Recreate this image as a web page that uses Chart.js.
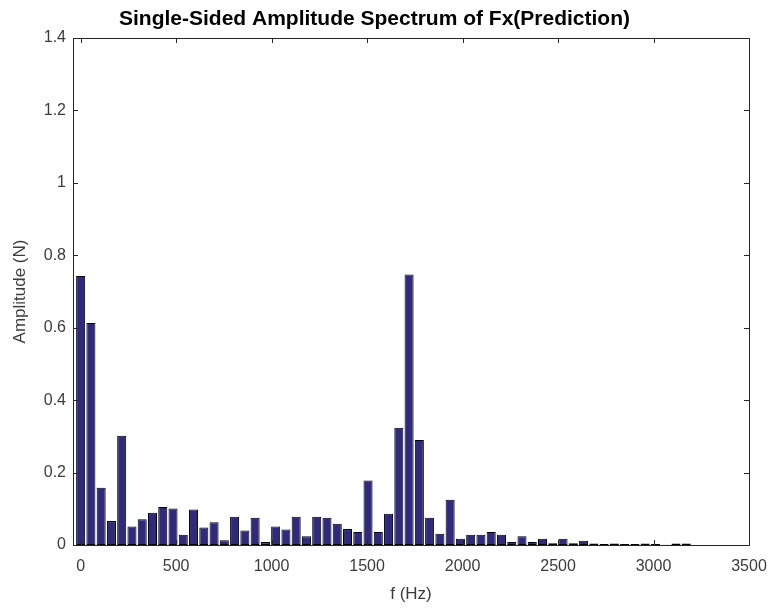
<!DOCTYPE html>
<html>
<head>
<meta charset="utf-8">
<script src="https://cdn.jsdelivr.net/npm/chart.js@4.4.1/dist/chart.umd.min.js"></script>
<style>
  html, body { margin: 0; padding: 0; background: #fff; }
  #wrap { width: 773px; height: 609px; position: relative; }
</style>
</head>
<body>
<div id="wrap"><canvas id="spectrum"></canvas></div>
<script>
// frequency bins (Hz)
const freqs = [0, 53.75, 107.5, 161.25, 215, 268.75, 322.5, 376.25, 430, 483.75,
  537.5, 591.25, 645, 698.75, 752.5, 806.25, 860, 913.75, 967.5, 1021.25,
  1075, 1128.75, 1182.5, 1236.25, 1290, 1343.75, 1397.5, 1451.25, 1505, 1558.75,
  1612.5, 1666.25, 1720, 1773.75, 1827.5, 1881.25, 1935, 1988.75, 2042.5, 2096.25,
  2150, 2203.75, 2257.5, 2311.25, 2365, 2418.75, 2472.5, 2526.25, 2580, 2633.75,
  2687.5, 2741.25, 2795, 2848.75, 2902.5, 2956.25, 3010, 3063.75, 3117.5, 3171.25,
  3225, 3278.75, 3332.5, 3386.25, 3440];

// single-sided amplitude (N)
const amplitude = [0.743, 0.613, 0.158, 0.066, 0.302, 0.051, 0.071, 0.089, 0.105, 0.101,
  0.028, 0.098, 0.048, 0.063, 0.013, 0.078, 0.040, 0.075, 0.008, 0.051,
  0.043, 0.078, 0.024, 0.078, 0.075, 0.059, 0.044, 0.036, 0.178, 0.036,
  0.086, 0.324, 0.747, 0.290, 0.075, 0.031, 0.125, 0.017, 0.028, 0.028,
  0.036, 0.028, 0.008, 0.024, 0.008, 0.017, 0.005, 0.017, 0.005, 0.012,
  0.004, 0.003, 0.004, 0.003, 0.003, 0.004, 0.003, 0.0005, 0.004, 0.004,
  0, 0, 0, 0, 0];

const xTicks = [0, 500, 1000, 1500, 2000, 2500, 3000, 3500];
const xTickLabels = ['0', '500', '1000', '1500', '2000', '2500', '3000', '3500'];
const yTicks = [0, 0.2, 0.4, 0.6, 0.8, 1, 1.2, 1.4];
const yTickLabels = ['0', '0.2', '0.4', '0.6', '0.8', '1', '1.2', '1.4'];

const axisColor = '#262626';
const labelColor = '#3c3c3c';
const sans = '"Liberation Sans", Arial, Helvetica, sans-serif';

// MATLAB-style box with inward ticks on all four sides
const boxPlugin = {
  id: 'matlabBox',
  afterDatasetsDraw(chart) {
    const { ctx, chartArea: a, scales } = chart;
    const len = 5;
    ctx.save();
    ctx.strokeStyle = axisColor;
    ctx.lineWidth = 1;
    ctx.beginPath();
    xTicks.forEach(v => {
      const px = Math.round(scales.x.getPixelForValue(v)) + 0.5;
      ctx.moveTo(px, a.bottom); ctx.lineTo(px, a.bottom - len);
      ctx.moveTo(px, a.top); ctx.lineTo(px, a.top + len);
    });
    yTicks.forEach(v => {
      const py = Math.round(scales.y.getPixelForValue(v)) + 0.5;
      ctx.moveTo(a.left, py); ctx.lineTo(a.left + len, py);
      ctx.moveTo(a.right, py); ctx.lineTo(a.right - len, py);
    });
    ctx.stroke();
    ctx.strokeRect(Math.round(a.left) + 0.5, Math.round(a.top) + 0.5,
      Math.round(a.right - a.left), Math.round(a.bottom - a.top));
    ctx.restore();
  }
};

const ctx = document.getElementById('spectrum').getContext('2d');

new Chart(ctx, {
  type: 'bar',
  data: {
    datasets: [{
      data: freqs.map((f, i) => ({ x: f, y: amplitude[i] })),
      backgroundColor: '#2f2a7c',
      borderColor: '#000000',
      borderWidth: 1,
      borderSkipped: false,
      categoryPercentage: 1,
      barPercentage: 0.88
    }]
  },
  options: {
    responsive: true,
    maintainAspectRatio: false,
    animation: false,
    layout: { padding: { left: 0, right: 24, top: 0, bottom: 0 } },
    plugins: {
      legend: { display: false },
      tooltip: { enabled: false },
      title: {
        display: true,
        text: 'Single-Sided Amplitude Spectrum of Fx(Prediction)',
        color: '#000',
        font: { family: sans, size: 21, weight: 'bold', lineHeight: 1 },
        padding: { top: 9, bottom: 8 }
      }
    },
    scales: {
      x: {
        type: 'linear',
        offset: false,
        min: -40,
        max: 3500,
        grid: { display: false, drawTicks: false },
        border: { display: false },
        afterBuildTicks: s => { s.ticks = xTicks.map(v => ({ value: v })); },
        afterFit: s => { s.height = 64; s.paddingLeft = 0; s.paddingRight = 0; },
        ticks: {
          color: labelColor,
          padding: 12,
          maxRotation: 0,
          autoSkip: false,
          font: { family: sans, size: 16 },
          callback: (v, i) => xTickLabels[i]
        },
        title: {
          display: true,
          text: 'f (Hz)',
          color: labelColor,
          padding: { top: 3 },
          font: { family: sans, size: 17 }
        }
      },
      y: {
        min: 0,
        max: 1.4,
        grid: { display: false, drawTicks: false },
        border: { display: false },
        afterBuildTicks: s => { s.ticks = yTicks.map(v => ({ value: v })); },
        afterFit: s => { s.width = 73; s.paddingTop = 0; s.paddingBottom = 0; },
        ticks: {
          color: labelColor,
          padding: 7,
          autoSkip: false,
          font: { family: sans, size: 16 },
          callback: (v, i) => yTickLabels[i]
        },
        title: {
          display: true,
          text: 'Amplitude (N)',
          color: labelColor,
          padding: { top: 10, bottom: 0 },
          font: { family: sans, size: 17 }
        }
      }
    }
  },
  plugins: [boxPlugin]
});
</script>
</body>
</html>
